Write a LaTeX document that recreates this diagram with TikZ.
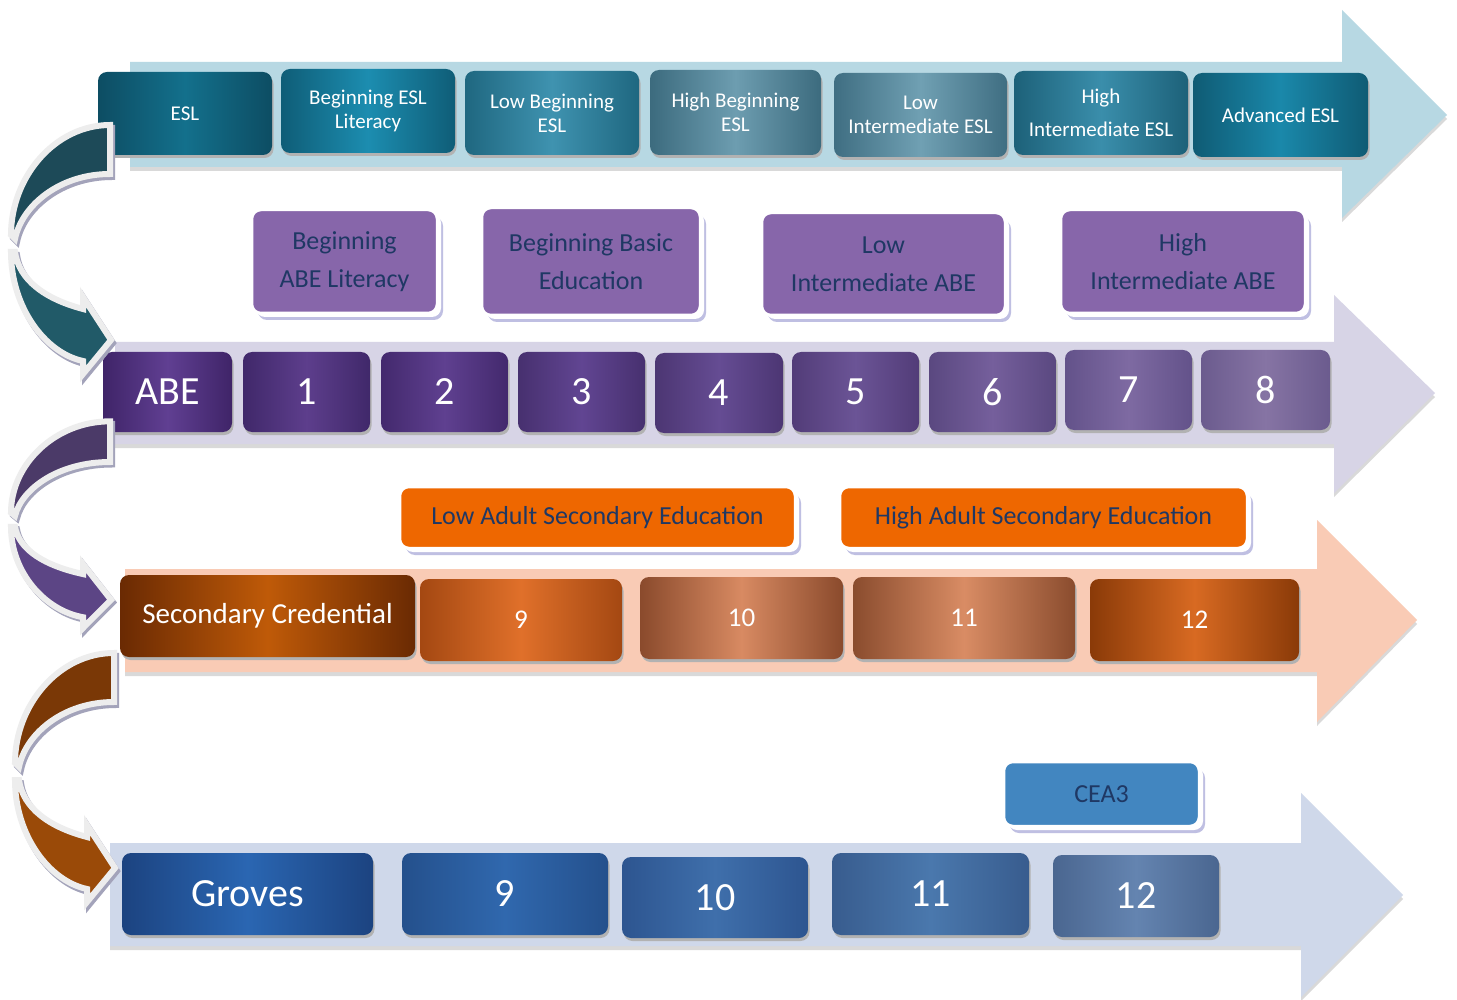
\documentclass[tikz,border=0pt]{standalone}
\usepackage{fontspec}
\setmainfont{Carlito}
\usetikzlibrary{shadows}
\definecolor{navy}{HTML}{1F3864}
\definecolor{arA}{HTML}{B7D8E3}
\definecolor{arB}{HTML}{D7D4E6}
\definecolor{arC}{HTML}{F9CBB5}
\definecolor{arD}{HTML}{CFD8EA}
\definecolor{labP}{HTML}{8766AA}
\definecolor{labO}{HTML}{EE6700}
\definecolor{labB}{HTML}{4286C0}
\definecolor{cvTa}{HTML}{1D4A58}
\definecolor{cvTb}{HTML}{215A68}
\definecolor{cvPa}{HTML}{4B3A68}
\definecolor{cvPb}{HTML}{5C4585}
\definecolor{cvBa}{HTML}{7A3806}
\definecolor{cvBb}{HTML}{9A4A08}
\newcommand\mybox[7]{%
  \pgfmathsetmacro\myBW{#4-#2}\pgfmathsetmacro\myBH{#5-#3}%
  \node[#6, minimum width=\myBW pt, minimum height=\myBH pt] (#1) at ({(#2+#4)/2},{(#3+#5)/2}) {#7};}
\tikzset{
  sh/.style 2 args={/utils/exec={\definecolor{shE}{HTML}{#1}\definecolor{shC}{HTML}{#2}},
    left color=shE, right color=shE, middle color=shC},
  box/.style={rounded corners=9pt, inner sep=0pt, align=center, text=white,
    general shadow={fill=black!30, shadow xshift=1.5pt, shadow yshift=-3pt}},
  lab/.style={rounded corners=9pt, inner sep=0pt, align=center, text=navy,
    draw=white, line width=2.5pt,
    general shadow={fill=black!45!blue!25, shadow xshift=6pt, shadow yshift=-7pt},
    general shadow={fill=white, shadow xshift=4pt, shadow yshift=-4pt}},
  rowarrow/.style={general shadow={fill=black!15, shadow yshift=-4pt}},
  curvshadow/.style={draw=black!25!blue!20!gray!60, fill=black!25!blue!20!gray!60, line width=6pt, line join=miter},
  curv/.style={draw=white!93!black, line width=6pt, line join=miter},
  fA/.style={font=\fontsize{21}{24}\selectfont},
  fL/.style={font=\fontsize{26}{38}\selectfont},
  fBig/.style={font=\fontsize{40}{44}\selectfont},
  fMid/.style={font=\fontsize{27}{30}\selectfont},
}
\def\upperband{(110,-2) .. controls (55,-2) and (11,50) .. (11,108) -- (15,112) .. controls (22,78) and (60,47) .. (110,47) -- cycle}
\def\lowerband{(11,125) .. controls (11,180) and (45,226) .. (83,234) -- (83,247) -- (111,213) -- (83,170) -- (83,182) .. controls (45,172) and (19,153) .. (15,125) -- cycle}
\begin{document}
\begin{tikzpicture}[x=1pt,y=-1pt]
\useasboundingbox (0,0) rectangle (1457,1000);
\fill[white] (0,0) rectangle (1457,1000);
% row arrows
\fill[arA, rowarrow] (130,62) -- (1342,62) -- (1342,10) -- (1447,115) -- (1342,218) -- (1342,167) -- (130,167) -- cycle;
\fill[arB, rowarrow] (115,342) -- (1334,342) -- (1334,295) -- (1435,393) -- (1334,493) -- (1334,444) -- (115,444) -- cycle;
\fill[arC, rowarrow] (125,569) -- (1317,569) -- (1317,520) -- (1417,620) -- (1317,722) -- (1317,672) -- (125,672) -- cycle;
\fill[arD, rowarrow] (110,843) -- (1301,843) -- (1301,793) -- (1403,895) -- (1301,997) -- (1301,946) -- (110,946) -- cycle;
% row 1
\mybox{esl}{98}{72}{272}{155}{box,fA,sh={0D4D63}{13708C}}{ESL}
\mybox{besl}{281}{69}{455}{153}{box,fA,sh={0F5D77}{1C8DB0}}{Beginning ESL\\Literacy}
\mybox{lbesl}{465}{71}{639}{155}{box,fA,sh={1F6780}{3F93B0}}{Low Beginning\\ESL}
\mybox{hbesl}{650}{70}{821}{155}{box,fA,sh={3C6B7E}{6D9DB0}}{High Beginning\\ESL}
\mybox{liesl}{834}{73}{1007}{157}{box,fA,sh={3F6E82}{70A0B3}}{Low\\Intermediate ESL}
\mybox{hiesl}{1014}{71}{1188}{155}{box,fA,sh={1D6179}{3A8EAB}}{High\\[9pt]Intermediate ESL}
\mybox{aesl}{1193}{73}{1368}{157}{box,fA,sh={0F5B74}{1A88AA}}{Advanced ESL}
% row 2 labels
\mybox{babel}{252}{210}{437}{313}{lab,fL,fill=labP}{Beginning\\ABE Literacy}
\mybox{bbe}{482}{208}{700}{315}{lab,fL,fill=labP}{Beginning Basic\\Education}
\mybox{liabe}{762}{213}{1005}{315}{lab,fL,fill=labP}{Low\\Intermediate ABE}
\mybox{hiabe}{1061}{210}{1305}{313}{lab,fL,fill=labP}{High\\Intermediate ABE}
% row 2 boxes
\mybox{abe}{103}{352}{232}{432}{box,fBig,sh={3F2468}{603F92}}{ABE}
\mybox{g1}{243}{352}{370}{432}{box,fBig,sh={40286A}{5D3E8C}}{1}
\mybox{g2}{381}{352}{508}{432}{box,fBig,sh={43296D}{5F4090}}{2}
\mybox{g3}{518}{352}{645}{432}{box,fBig,sh={47306F}{614592}}{3}
\mybox{g4}{655}{353}{783}{433}{box,fBig,sh={4C3673}{654C93}}{4}
\mybox{g5}{792}{352}{919}{432}{box,fBig,sh={523C78}{6B5496}}{5}
\mybox{g6}{929}{352}{1056}{432}{box,fBig,sh={5A4880}{755F9C}}{6}
\mybox{g7}{1065}{350}{1192}{430}{box,fBig,sh={63528A}{7E6AA2}}{7}
\mybox{g8}{1201}{350}{1330}{430}{box,fBig,sh={6B5B8E}{8674A4}}{8}
% row 3 labels
\mybox{lase}{400}{487}{795}{548}{lab,fL,fill=labO}{Low Adult Secondary Education}
\mybox{hase}{840}{487}{1247}{548}{lab,fL,fill=labO}{High Adult Secondary Education}
% row 3 boxes
\mybox{sc}{120}{575}{415}{657}{box,font=\fontsize{29}{32}\selectfont,sh={6A2A03}{BF5A08}}{Secondary Credential}
\mybox{s9}{420}{579}{622}{661}{box,fMid,sh={A44812}{E0702A}}{9}
\mybox{s10}{640}{577}{843}{659}{box,fMid,sh={8A4A2C}{D88A62}}{10}
\mybox{s11}{853}{577}{1075}{659}{box,fMid,sh={8A4C2E}{D98C64}}{11}
\mybox{s12}{1090}{579}{1299}{661}{box,fMid,sh={8A3A08}{D86A22}}{12}
% row 4
\mybox{cea}{1004}{762}{1199}{826}{lab,fL,fill=labB}{CEA3}
\mybox{groves}{122}{853}{373}{935}{box,fBig,sh={1C4380}{2A66B2}}{Groves}
\mybox{t9}{402}{853}{608}{935}{box,fBig,sh={24508C}{3068AE}}{9}
\mybox{t10}{622}{857}{808}{938}{box,fBig,sh={2D5590}{3F6FAB}}{10}
\mybox{t11}{832}{853}{1029}{935}{box,fBig,sh={385C8E}{4A78AD}}{11}
\mybox{t12}{1053}{855}{1219}{937}{box,fBig,sh={4A6690}{6484B0}}{12}
% curved arrows
\begin{scope}[shift={(0,127)}]
  \begin{scope}[shift={(2,3)}]
    \path[curvshadow] \upperband; \path[curvshadow] \lowerband;
  \end{scope}
  \path[curv, fill=cvTa] \upperband;
  \path[curv, fill=cvTb] \lowerband;
\end{scope}
\begin{scope}[shift={(0,423)}, yscale=0.83]
  \begin{scope}[shift={(2,3)}]
    \path[curvshadow] \upperband; \path[curvshadow] \lowerband;
  \end{scope}
  \path[curv, fill=cvPa] \upperband;
  \path[curv, fill=cvPb] \lowerband;
\end{scope}
\begin{scope}[shift={(4,655)}]
  \begin{scope}[shift={(2,3)}]
    \path[curvshadow] \upperband; \path[curvshadow] \lowerband;
  \end{scope}
  \path[curv, fill=cvBa] \upperband;
  \path[curv, fill=cvBb] \lowerband;
\end{scope}
\end{tikzpicture}
\end{document}
